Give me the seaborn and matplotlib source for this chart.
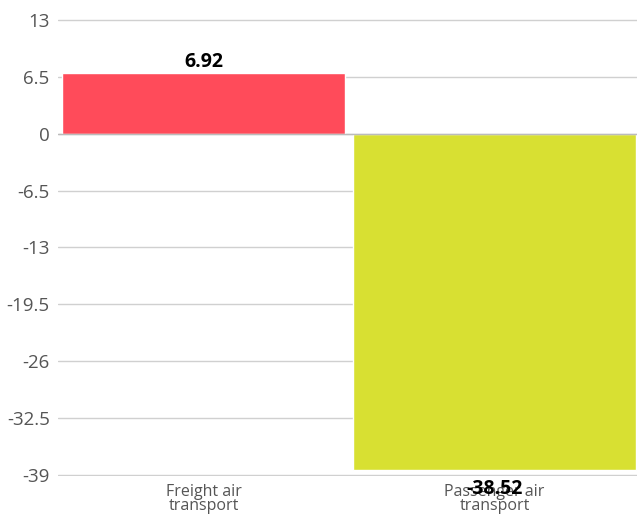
import matplotlib
matplotlib.use("Agg")
import matplotlib.pyplot as plt
import seaborn as sns
import pandas as pd

# data
categories = ["Freight air\ntransport", "Passenger air\ntransport"]
values = [6.92, -38.52]
value_labels = ["6.92", "-38.52"]
bar_colors = ["#FF4B5A", "#D8E032"]
y_ticks = [13, 6.5, 0, -6.5, -13, -19.5, -26, -32.5, -39]
y_tick_labels = ["13", "6.5", "0", "-6.5", "-13", "-19.5", "-26", "-32.5", "-39"]

sns.set_style("white")
plt.rcParams["font.family"] = ["Open Sans", "DejaVu Sans"]

df = pd.DataFrame({"cat": categories, "val": values})

fig = plt.figure(figsize=(6.37, 5.15), dpi=100)
ax = fig.add_axes([0.091, 0.076, 0.909, 0.887])

sns.barplot(data=df, x="cat", y="val", hue="cat", palette=bar_colors,
            width=0.97, legend=False, ax=ax, zorder=3, saturation=1)

ax.set_ylim(-39.15, 13.15)
ax.set_xlim(-0.5, 1.49)
ax.set_yticks(y_ticks)
ax.set_yticklabels(y_tick_labels)
ax.yaxis.grid(True, color="#d0d0d0", linewidth=1, zorder=0)
ax.axhline(0, color="#bbbbbb", linewidth=1, zorder=4)
for s in ax.spines.values():
    s.set_visible(False)
ax.tick_params(axis="y", length=4, color="#bbbbbb", labelsize=13.5, labelcolor="#555555", pad=2)
ax.tick_params(axis="x", length=0, labelsize=11.5, labelcolor="#555555", pad=6)
for lbl in ax.get_xticklabels():
    lbl.set_linespacing(0.82)
ax.set_xlabel("")
ax.set_ylabel("")

for i, (v, t) in enumerate(zip(values, value_labels)):
    if v >= 0:
        ax.annotate(t, (i, v), xytext=(0, 1), textcoords="offset points",
                    ha="center", va="bottom", fontsize=14, fontweight="bold", color="black")
    else:
        ax.annotate(t, (i, -39), xytext=(0, -3), textcoords="offset points",
                    ha="center", va="top", fontsize=14, fontweight="bold", color="black")

fig.savefig("out.png", dpi=100)
